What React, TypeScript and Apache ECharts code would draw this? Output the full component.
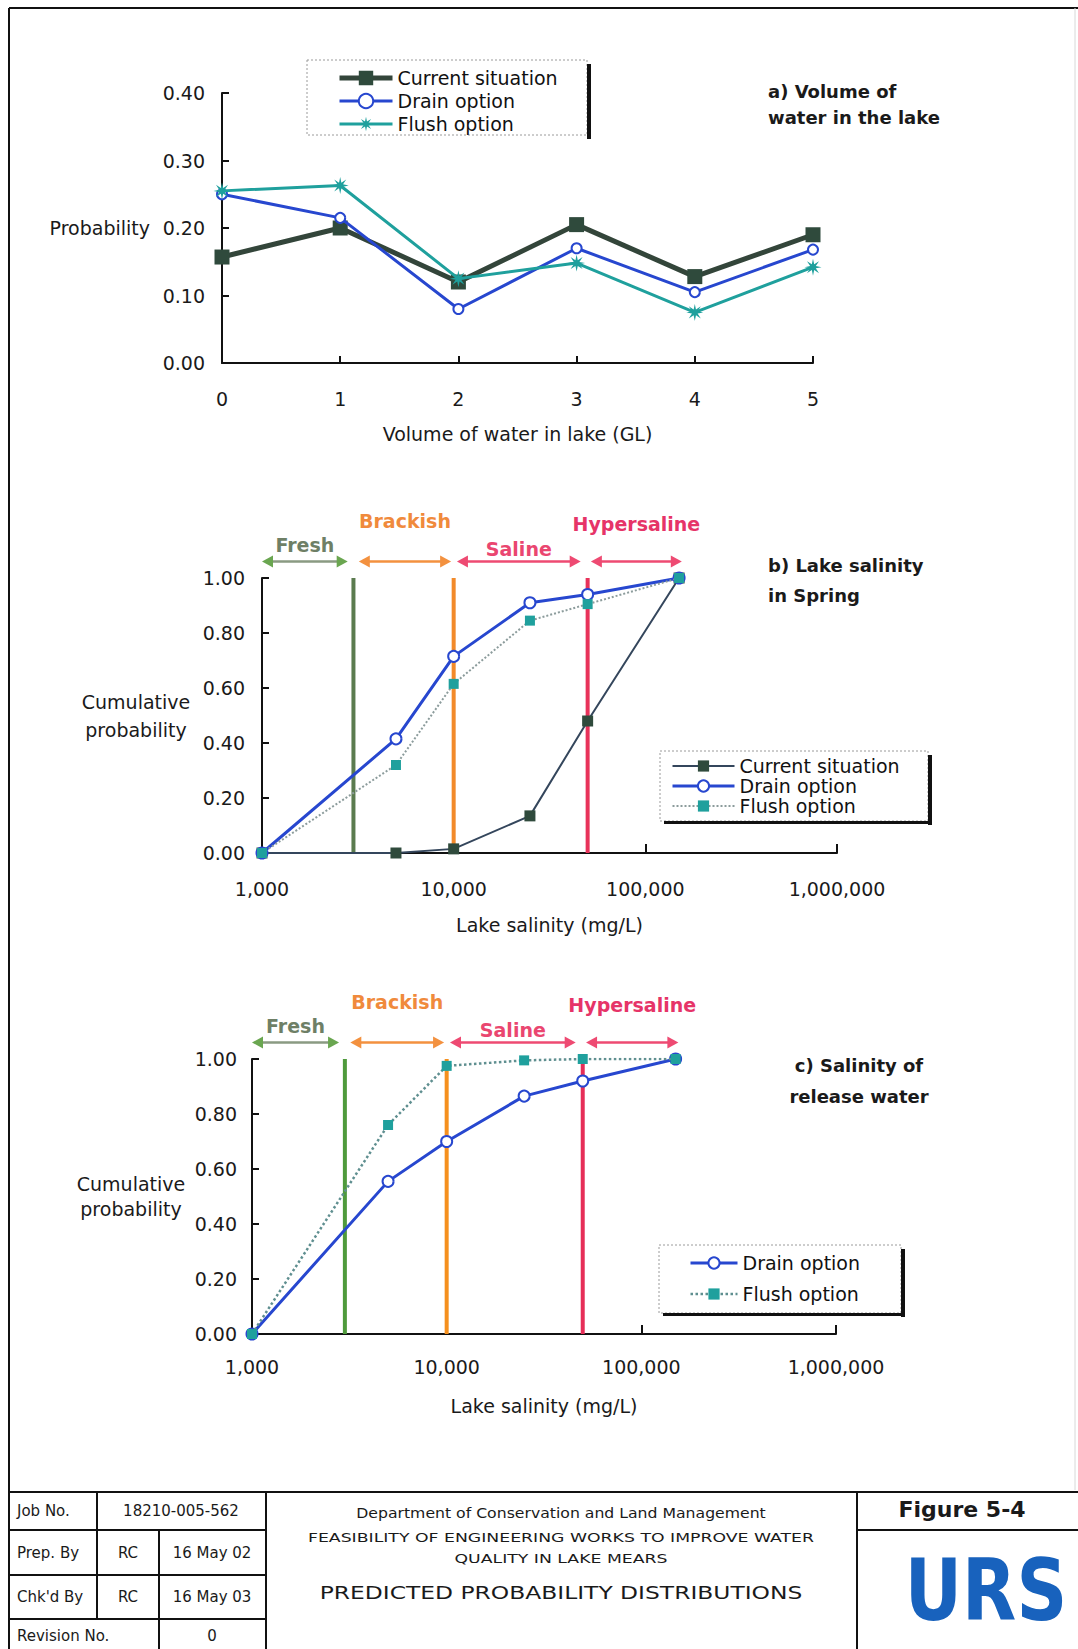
import React, { useEffect, useRef } from 'react';
import * as echarts from 'echarts';

// ---------- DATA ----------
const volumeGL = [0, 1, 2, 3, 4, 5];
const volCurrent = [0.157, 0.2, 0.12, 0.205, 0.128, 0.19];
const volDrain = [0.25, 0.215, 0.08, 0.17, 0.105, 0.168];
const volFlush = [0.255, 0.263, 0.125, 0.148, 0.075, 0.142];

const salinity = [1000, 5000, 10000, 25000, 50000, 150000];
const springCurrent = [0, 0, 0.015, 0.135, 0.48, 1.0];
const springDrain = [0, 0.415, 0.715, 0.91, 0.94, 1.0];
const springFlush = [0, 0.32, 0.615, 0.845, 0.905, 1.0];
const releaseDrain = [0, 0.555, 0.7, 0.865, 0.92, 1.0];
const releaseFlush = [0, 0.76, 0.975, 0.995, 1.0, 1.0];

const salinityThresholds = [3000, 10000, 50000];
const zoneLabels = ['Fresh', 'Brackish', 'Saline', 'Hypersaline'];
const zoneFrom = [1000, 3200, 10400, 52000];
const zoneTo = [2800, 9700, 46000, 155000];
const zoneLevel = 1.06;

const seriesNames = ['Current situation', 'Drain option', 'Flush option'];

// ---------- STYLE ----------
const FONT = '"DejaVu Sans", Verdana, sans-serif';
const TXT = '#1a1a1a';
const C_CUR = '#2f4a3c';
const C_CUR_LINE_A = '#33453a';
const C_CUR_LINE_B = '#34465c';
const C_DRAIN = '#2747cf';
const C_FLUSH = '#1fa09d';
const C_FLUSH_LINE_B = '#8c9c9c';
const C_FLUSH_LINE_C = '#5f8f90';
const zoneHeadColors = ['#6aa650', '#f3913f', '#ee4a72', '#ee4a72'];
const zoneLineColors = ['#8a9a82', '#f3913f', '#ee4a72', '#ee4a72'];
const zoneTextColors = ['#6e7f66', '#f08a3c', '#ea4670', '#e63468'];
const zoneLift = [17, 41, 13, 38];
const thresholdColorsB = ['#5b7b4f', '#f28a2a', '#e8325a'];
const thresholdColorsC = ['#4f9a3c', '#f5901e', '#e62e58'];

function starPath(): string {
  const pts: string[] = [];
  for (let i = 0; i < 16; i++) {
    const a = (i * Math.PI) / 8 - Math.PI / 2;
    const r = i % 2 === 0 ? 10 : 3.6;
    pts.push(`${(10 + r * Math.cos(a)).toFixed(2)},${(10 + r * Math.sin(a)).toFixed(2)}`);
  }
  return 'path://M' + pts.join(' L') + ' Z';
}

const axisLineStyle = { show: true, onZero: false, lineStyle: { color: '#111', width: 2 } };
const axisTickStyle = { show: true, inside: true, length: 7, lineStyle: { color: '#111', width: 2 } };
const labelFont = { fontFamily: FONT, fontSize: 19, color: TXT };

function logX(gridIndex: number, margin: number) {
  return {
    gridIndex,
    type: 'log',
    logBase: 10,
    min: 1000,
    max: 1000000,
    axisLine: axisLineStyle,
    axisTick: { ...axisTickStyle, length: 9 },
    minorTick: { show: false },
    splitLine: { show: false },
    axisLabel: {
      ...labelFont,
      margin,
      showMinLabel: true,
      showMaxLabel: true,
      formatter: (v: number) => Math.round(v).toLocaleString('en-US'),
    },
    name: 'Lake salinity (mg/L)',
    nameLocation: 'middle',
    nameGap: 62,
    nameTextStyle: { ...labelFont },
  };
}

function probY(gridIndex: number, margin: number, nameGap: number, lineHeight: number) {
  return {
    gridIndex,
    type: 'value',
    min: 0,
    max: 1,
    interval: 0.2,
    axisLine: axisLineStyle,
    axisTick: axisTickStyle,
    splitLine: { show: false },
    axisLabel: { ...labelFont, margin, formatter: (v: number) => v.toFixed(2) },
    name: 'Cumulative\nprobability',
    nameLocation: 'middle',
    nameRotate: 0,
    nameGap,
    nameTextStyle: { ...labelFont, align: 'center', verticalAlign: 'middle', lineHeight },
  };
}

function thresholdSeries(idx: number, colors: string[]) {
  return {
    type: 'custom',
    xAxisIndex: idx,
    yAxisIndex: idx,
    z: 1,
    silent: true,
    clip: false,
    data: salinityThresholds.map((x) => [x, 0, 1]),
    encode: { x: 0, y: [1, 2] },
    renderItem: (params: any, api: any) => {
      const p0 = api.coord([api.value(0), api.value(1)]);
      const p1 = api.coord([api.value(0), api.value(2)]);
      return {
        type: 'line',
        shape: { x1: p0[0], y1: p0[1], x2: p1[0], y2: p1[1] },
        style: { stroke: colors[params.dataIndex], lineWidth: 4 },
      };
    },
  };
}

function zoneSeries(idx: number) {
  return {
    type: 'custom',
    xAxisIndex: idx,
    yAxisIndex: idx,
    z: 1,
    silent: true,
    clip: false,
    data: zoneLabels.map((_, i) => [zoneFrom[i], zoneTo[i], zoneLevel]),
    encode: { x: [0, 1], y: 2 },
    renderItem: (params: any, api: any) => {
      const i = params.dataIndex;
      const a = api.coord([api.value(0), api.value(2)]);
      const b = api.coord([api.value(1), api.value(2)]);
      const y = a[1];
      const head = 11;
      const half = 6;
      return {
        type: 'group',
        children: [
          {
            type: 'line',
            shape: { x1: a[0] + head - 1, y1: y, x2: b[0] - head + 1, y2: y },
            style: { stroke: zoneLineColors[i], lineWidth: 2.5 },
          },
          {
            type: 'polygon',
            shape: { points: [[a[0], y], [a[0] + head, y - half], [a[0] + head, y + half]] },
            style: { fill: zoneHeadColors[i] },
          },
          {
            type: 'polygon',
            shape: { points: [[b[0], y], [b[0] - head, y - half], [b[0] - head, y + half]] },
            style: { fill: zoneHeadColors[i] },
          },
          {
            type: 'text',
            x: (a[0] + b[0]) / 2,
            y: y - zoneLift[i],
            style: {
              text: zoneLabels[i],
              fill: zoneTextColors[i],
              fontFamily: FONT,
              fontSize: 19,
              fontWeight: 'bold',
              align: 'center',
              verticalAlign: 'middle',
            },
          },
        ],
      };
    },
  };
}

function pairs(xs: number[], ys: number[]) {
  return xs.map((x, i) => [x, ys[i]]);
}

// ---------- graphic helpers ----------
function gLine(x1: number, y1: number, x2: number, y2: number, w = 2, color = '#111') {
  return { type: 'line', silent: true, shape: { x1, y1, x2, y2 }, style: { stroke: color, lineWidth: w } };
}
function gText(x: number, y: number, text: string, opts: any = {}) {
  const { scaleX, ...style } = opts;
  return {
    type: 'text',
    x,
    y,
    scaleX: scaleX ?? 1,
    silent: true,
    style: {
      text,
      fill: TXT,
      fontFamily: FONT,
      fontSize: 15,
      align: 'left',
      verticalAlign: 'middle',
      ...style,
    },
  };
}
function legendBox(x: number, y: number, w: number, h: number, bottomShadow: boolean) {
  const els: any[] = [
    {
      type: 'rect',
      silent: true,
      shape: { x, y, width: w, height: h },
      style: { fill: '#fff', stroke: '#9a9a9a', lineWidth: 1, lineDash: [2, 2] },
      z: 0,
    },
    { type: 'rect', silent: true, shape: { x: x + w, y: y + 4, width: 4, height: h }, style: { fill: '#111' } },
  ];
  if (bottomShadow) {
    els.push({ type: 'rect', silent: true, shape: { x: x + 4, y: y + h, width: w, height: 3 }, style: { fill: '#111' } });
  }
  return els;
}

const star = starPath();

const option: any = {
  animation: false,
  backgroundColor: '#fff',
  textStyle: { fontFamily: FONT },
  grid: [
    { left: 222, top: 93, width: 591, height: 270, outerBoundsMode: 'none', containLabel: false },
    { left: 262, top: 578, width: 575, height: 275, outerBoundsMode: 'none', containLabel: false },
    { left: 252, top: 1059, width: 584, height: 275, outerBoundsMode: 'none', containLabel: false },
  ],
  xAxis: [
    {
      gridIndex: 0,
      type: 'value',
      min: 0,
      max: 5,
      interval: 1,
      axisLine: axisLineStyle,
      axisTick: axisTickStyle,
      splitLine: { show: false },
      axisLabel: { ...labelFont, margin: 26, showMinLabel: true, showMaxLabel: true },
      name: 'Volume of water in lake (GL)',
      nameLocation: 'middle',
      nameGap: 61,
      nameTextStyle: { ...labelFont },
    },
    logX(1, 26),
    logX(2, 23),
  ],
  yAxis: [
    {
      gridIndex: 0,
      type: 'value',
      min: 0,
      max: 0.4,
      interval: 0.1,
      axisLine: axisLineStyle,
      axisTick: axisTickStyle,
      splitLine: { show: false },
      axisLabel: { ...labelFont, margin: 17, formatter: (v: number) => v.toFixed(2) },
      name: 'Probability',
      nameLocation: 'middle',
      nameRotate: 0,
      nameGap: 72,
      nameTextStyle: { ...labelFont, align: 'right', verticalAlign: 'middle' },
    },
    probY(1, 17, 126, 28),
    probY(2, 15, 121, 25),
  ],
  legend: [
    {
      orient: 'vertical',
      left: 337,
      top: 67,
      padding: 0,
      itemWidth: 53,
      itemHeight: 18,
      itemGap: 1,
      selectedMode: false,
      textStyle: { ...labelFont, color: '#111', lineHeight: 22 },
      formatter: (n: string) => n.split('|')[1],
      data: [
        { name: 'a|' + seriesNames[0], lineStyle: { width: 5 } },
        { name: 'a|' + seriesNames[1], lineStyle: { width: 3 } },
        { name: 'a|' + seriesNames[2], lineStyle: { width: 3 } },
      ],
    },
    {
      orient: 'vertical',
      left: 671,
      top: 756,
      padding: 0,
      itemWidth: 62,
      itemHeight: 14,
      itemGap: 0,
      selectedMode: false,
      textStyle: { ...labelFont, color: '#111', lineHeight: 20 },
      formatter: (n: string) => n.split('|')[1],
      data: [
        { name: 'b|' + seriesNames[0], lineStyle: { width: 2 } },
        { name: 'b|' + seriesNames[1], lineStyle: { width: 3 } },
        { name: 'b|' + seriesNames[2], lineStyle: { width: 2 } },
      ],
    },
    {
      orient: 'vertical',
      left: 689,
      top: 1252,
      padding: 0,
      itemWidth: 47,
      itemHeight: 14,
      itemGap: 9,
      selectedMode: false,
      textStyle: { ...labelFont, color: '#111', lineHeight: 22 },
      formatter: (n: string) => n.split('|')[1],
      data: [
        { name: 'c|' + seriesNames[1], lineStyle: { width: 3 } },
        { name: 'c|' + seriesNames[2], lineStyle: { width: 2.5 } },
      ],
    },
  ],
  series: [
    // a) volume of water
    {
      name: 'a|' + seriesNames[0],
      type: 'line',
      xAxisIndex: 0,
      yAxisIndex: 0,
      data: pairs(volumeGL, volCurrent),
      symbol: 'rect',
      symbolSize: 15,
      itemStyle: { color: C_CUR },
      lineStyle: { color: C_CUR_LINE_A, width: 5 },
      z: 2,
    },
    {
      name: 'a|' + seriesNames[1],
      type: 'line',
      xAxisIndex: 0,
      yAxisIndex: 0,
      data: pairs(volumeGL, volDrain),
      symbol: 'emptyCircle',
      symbolSize: 10,
      itemStyle: { color: C_DRAIN, borderColor: C_DRAIN, borderWidth: 2.5 },
      lineStyle: { color: C_DRAIN, width: 3 },
      z: 3,
    },
    {
      name: 'a|' + seriesNames[2],
      type: 'line',
      xAxisIndex: 0,
      yAxisIndex: 0,
      data: pairs(volumeGL, volFlush),
      symbol: star,
      symbolSize: 17,
      itemStyle: { color: C_FLUSH },
      lineStyle: { color: C_FLUSH, width: 3 },
      z: 4,
    },
    // b) lake salinity in spring
    thresholdSeries(1, thresholdColorsB),
    zoneSeries(1),
    {
      name: 'b|' + seriesNames[0],
      type: 'line',
      xAxisIndex: 1,
      yAxisIndex: 1,
      data: pairs(salinity, springCurrent),
      symbol: 'rect',
      symbolSize: 11,
      itemStyle: { color: C_CUR },
      lineStyle: { color: C_CUR_LINE_B, width: 2 },
      z: 2,
    },
    {
      name: 'b|' + seriesNames[1],
      type: 'line',
      xAxisIndex: 1,
      yAxisIndex: 1,
      data: pairs(salinity, springDrain),
      symbol: 'emptyCircle',
      symbolSize: 11,
      itemStyle: { color: C_DRAIN, borderColor: C_DRAIN, borderWidth: 2.5 },
      lineStyle: { color: C_DRAIN, width: 3 },
      z: 3,
    },
    {
      name: 'b|' + seriesNames[2],
      type: 'line',
      xAxisIndex: 1,
      yAxisIndex: 1,
      data: pairs(salinity, springFlush),
      symbol: 'rect',
      symbolSize: 10,
      itemStyle: { color: C_FLUSH },
      lineStyle: { color: C_FLUSH_LINE_B, width: 2, type: 'dotted' },
      z: 4,
    },
    // c) salinity of release water
    thresholdSeries(2, thresholdColorsC),
    zoneSeries(2),
    {
      name: 'c|' + seriesNames[1],
      type: 'line',
      xAxisIndex: 2,
      yAxisIndex: 2,
      data: pairs(salinity, releaseDrain),
      symbol: 'emptyCircle',
      symbolSize: 11,
      itemStyle: { color: C_DRAIN, borderColor: C_DRAIN, borderWidth: 2.5 },
      lineStyle: { color: C_DRAIN, width: 3 },
      z: 3,
    },
    {
      name: 'c|' + seriesNames[2],
      type: 'line',
      xAxisIndex: 2,
      yAxisIndex: 2,
      data: pairs(salinity, releaseFlush),
      symbol: 'rect',
      symbolSize: 10,
      itemStyle: { color: C_FLUSH },
      lineStyle: { color: C_FLUSH_LINE_C, width: 2.5, type: 'dotted' },
      z: 4,
    },
  ],
  graphic: [
    // page frame
    gLine(9, 8, 1078, 8, 2),
    gLine(9, 8, 9, 1649, 2),
    gLine(1075, 8, 1075, 1490, 1, '#d8d8d8'),
    // legend boxes
    ...legendBox(307, 60, 280, 75, false),
    ...legendBox(660, 751, 268, 70, true),
    ...legendBox(659, 1245, 242, 68, true),
    // chart titles
    gText(768, 78, 'a) Volume of\nwater in the lake', {
      fontSize: 18, fontWeight: 'bold', verticalAlign: 'top', lineHeight: 26,
    }),
    gText(768, 550, 'b) Lake salinity\nin Spring', {
      fontSize: 18, fontWeight: 'bold', verticalAlign: 'top', lineHeight: 30,
    }),
    gText(859, 1050, 'c) Salinity of\nrelease water', {
      fontSize: 18, fontWeight: 'bold', verticalAlign: 'top', lineHeight: 31, align: 'center',
    }),
    // title block lines
    gLine(9, 1492, 1078, 1492, 2),
    gLine(9, 1530, 266, 1530, 2),
    gLine(9, 1575, 266, 1575, 2),
    gLine(9, 1619, 266, 1619, 2),
    gLine(97, 1492, 97, 1619, 2),
    gLine(159, 1530, 159, 1649, 2),
    gLine(266, 1492, 266, 1649, 2),
    gLine(857, 1492, 857, 1649, 2),
    gLine(857, 1530, 1078, 1530, 2),
    // title block texts
    gText(17, 1511, 'Job No.'),
    gText(181, 1511, '18210-005-562', { align: 'center' }),
    gText(17, 1553, 'Prep. By'),
    gText(128, 1553, 'RC', { align: 'center' }),
    gText(212, 1553, '16 May 02', { align: 'center' }),
    gText(17, 1597, "Chk'd By"),
    gText(128, 1597, 'RC', { align: 'center' }),
    gText(212, 1597, '16 May 03', { align: 'center' }),
    gText(17, 1636, 'Revision No.'),
    gText(212, 1636, '0', { align: 'center' }),
    gText(561, 1513, 'Department of Conservation and Land Management', { align: 'center', fontSize: 14, scaleX: 1.12 }),
    gText(561, 1538, 'FEASIBILITY OF ENGINEERING WORKS TO IMPROVE WATER', { align: 'center', fontSize: 13, scaleX: 1.33 }),
    gText(561, 1559, 'QUALITY IN LAKE MEARS', { align: 'center', fontSize: 13, scaleX: 1.33 }),
    gText(561, 1593, 'PREDICTED PROBABILITY DISTRIBUTIONS', { align: 'center', fontSize: 18, scaleX: 1.3 }),
    gText(962, 1509, 'Figure 5-4', { align: 'center', fontSize: 22, fontWeight: 'bold' }),
    gText(986, 1590, 'URS', { align: 'center', fontSize: 86, fontWeight: 'bold', fill: '#1862bd', scaleX: 0.82 }),
  ],
};

export default function App() {
  const ref = useRef<HTMLDivElement>(null);
  useEffect(() => {
    document.body.style.margin = '0';
    const chart = echarts.init(ref.current as HTMLDivElement, null, { renderer: 'svg' });
    chart.setOption(option);
    return () => chart.dispose();
  }, []);
  return <div ref={ref} style={{ width: 1078, height: 1649, background: '#fff' }} />;
}
